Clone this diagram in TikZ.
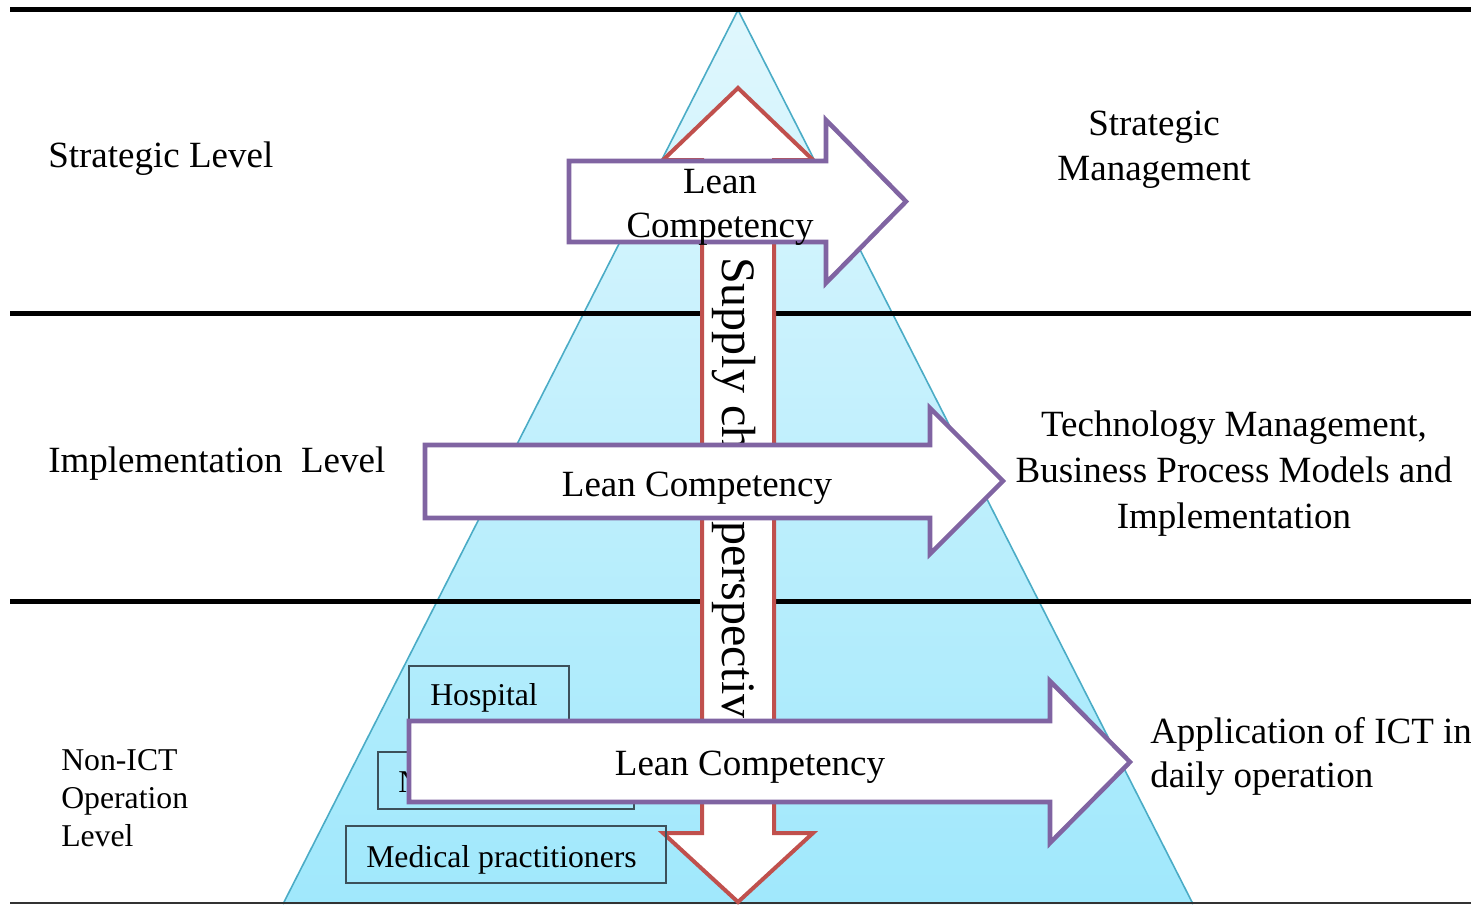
\documentclass[tikz,border=0pt]{standalone}
\usepackage{fontspec}
\setmainfont{Liberation Serif}
\definecolor{tribgtop}{RGB}{224,247,253}
\definecolor{tribgbot}{RGB}{160,232,252}
\definecolor{triedge}{RGB}{75,172,198}
\definecolor{redarr}{RGB}{192,80,77}
\definecolor{purarr}{RGB}{128,100,162}
\definecolor{boxedge}{RGB}{60,80,90}
\newcommand\fbig{\fontsize{27.75}{33}\selectfont}
\newcommand\fsmall{\fontsize{23.8}{28.5}\selectfont}
\newcommand\fvert{\fontsize{36}{41}\selectfont}
\tikzset{
  lbl/.style={inner sep=0pt, font=\fbig, anchor=base},
  lblw/.style={inner sep=0pt, font=\fbig, anchor=base west},
  smlbl/.style={inner sep=0pt, font=\fsmall, anchor=base west},
  levelline/.style={line width=3.75pt, black},
  redshape/.style={draw=redarr, line width=3pt, fill=white, line join=miter},
  purshape/.style={draw=purarr, line width=3.4pt, fill=white, line join=miter},
  orgbox/.style={draw=boxedge, line width=0.9pt},
}
\begin{document}
\begin{tikzpicture}[x=0.75pt,y=-0.75pt]
\useasboundingbox (0,0) rectangle (1471,904);
% pyramid
\shade[top color=tribgtop, bottom color=tribgbot] (738,10) -- (1193,904) -- (283,904) -- cycle;
\draw[triedge, line width=1.2pt] (283,904) -- (738,10) -- (1193,904);
% level lines
\draw[levelline] (10,9) -- (1471,9);
\draw[levelline] (10,313) -- (1471,313);
\draw[levelline] (10,601.5) -- (1471,601.5);
\draw[line width=1.1pt, black!80] (10,903) -- (1471,903);
% supply chain double arrow
\draw[redshape] (738,88) -- (813,160) -- (774,160) -- (774,833) -- (813,833) -- (738,902)
  -- (663,833) -- (702,833) -- (702,160) -- (663,160) -- cycle;
\node[rotate=-90, anchor=base west, inner sep=0pt, font=\fvert] (scp) at (722,257) {Supply chain perspective};
% organisation boxes
\draw[orgbox] (409,666) rectangle (569,740);
\node[smlbl] (hosp) at (430,705) {Hospital};
\draw[orgbox] (378,752) rectangle (634,809);
\node[smlbl] (nbox) at (398,792) {N};
\draw[orgbox] (346,826) rectangle (666,883);
\node[smlbl] (medp) at (366,867) {Medical practitioners};
% lean competency arrows
\draw[purshape] (569,161) -- (826,161) -- (826,120) -- (906,201.5) -- (826,283) -- (826,242) -- (569,242) -- cycle;
\node[lbl] (lc1a) at (720,193) {Lean};
\node[lbl] (lc1b) at (720,237) {Competency};
\draw[purshape] (425,445) -- (930,445) -- (930,408) -- (1003,481) -- (930,554) -- (930,518) -- (425,518) -- cycle;
\node[lbl] (lc2) at (697,496) {Lean Competency};
\draw[purshape] (409,721) -- (1050,721) -- (1050,681) -- (1130,762) -- (1050,843) -- (1050,802) -- (409,802) -- cycle;
\node[lbl] (lc3) at (750,775) {Lean Competency};
% left level labels
\node[lblw] (strat) at (48,167) {Strategic Level};
\node[lblw] (impl) at (48,472) {Implementation\ \ Level};
\node[smlbl] (nonict1) at (61,770) {Non-ICT};
\node[smlbl] (nonict2) at (61,808) {Operation};
\node[smlbl] (nonict3) at (61,846) {Level};
% right descriptions
\node[lbl] (sm1) at (1154,135) {Strategic};
\node[lbl] (sm2) at (1154,180) {Management};
\node[lbl] (tm1) at (1234,436) {Technology Management,};
\node[lbl] (tm2) at (1234,482) {Business Process Models and};
\node[lbl] (tm3) at (1234,528) {Implementation};
\node[lblw] (ap1) at (1150,743) {Application of ICT in};
\node[lblw] (ap2) at (1150,787) {daily operation};
\end{tikzpicture}
\end{document}
